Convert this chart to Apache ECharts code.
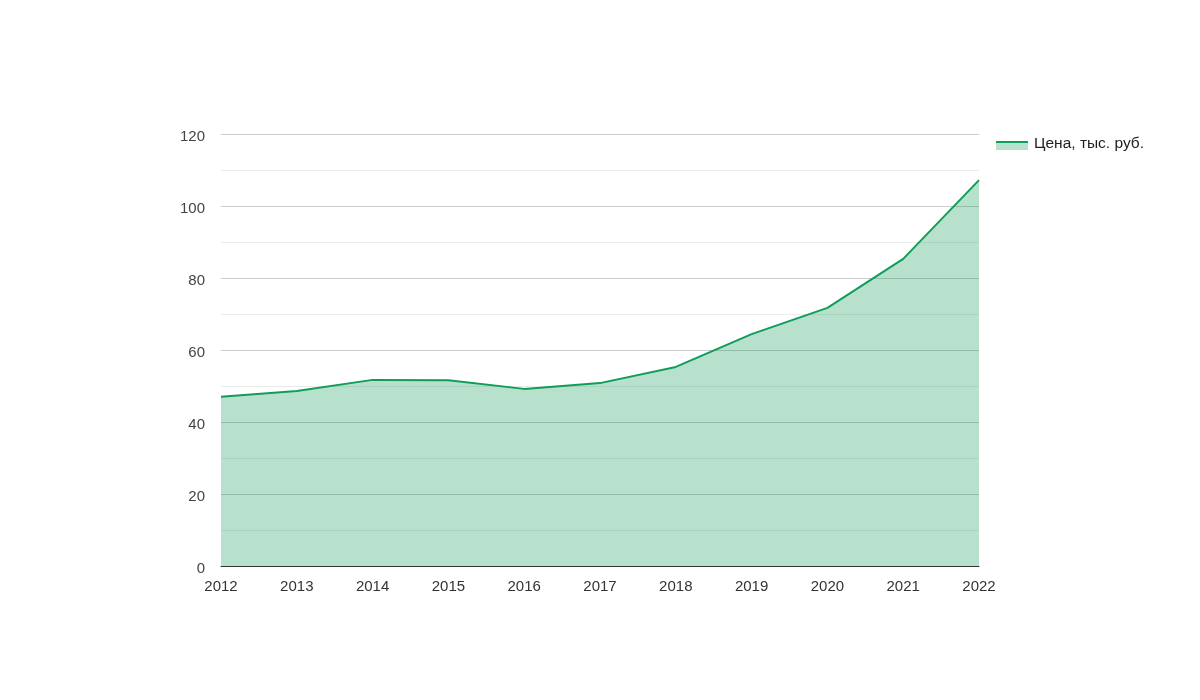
<!DOCTYPE html>
<html><head><meta charset="utf-8">
<script src="https://cdn.jsdelivr.net/npm/echarts@6/dist/echarts.min.js"></script>
<style>html,body{margin:0;padding:0;background:#fff}#c{width:1200px;height:700px}</style>
</head><body><div id="c"></div>
<script>
const years = ['2012','2013','2014','2015','2016','2017','2018','2019','2020','2021','2022'];
const prices = [47.0, 48.6, 51.7, 51.6, 49.2, 50.8, 55.3, 64.4, 71.7, 85.3, 107.2];
const seriesName = 'Цена, тыс. руб.';
const lineColor = '#0f9d58';
const font = 'Liberation Sans, Arial, sans-serif';
const chart = echarts.init(document.getElementById('c'));
chart.setOption({
  animation: false,
  grid: {left: 221, right: 221, top: 134, bottom: 134},
  xAxis: {
    type: 'category', data: years, boundaryGap: false,
    axisLine: {show: true, lineStyle: {color: '#333', width: 1}},
    axisTick: {show: false},
    axisLabel: {color: '#333', fontSize: 15, fontFamily: font, margin: 13}
  },
  yAxis: {
    type: 'value', min: 0, max: 120, interval: 20,
    axisLine: {show: false}, axisTick: {show: false},
    axisLabel: {
      margin: 16, formatter: '{a|{value}}',
      rich: {a: {color: '#444', fontSize: 15, fontFamily: font, padding: [5, 0, 0, 0]}}
    },
    splitLine: {lineStyle: {color: '#cccccc', width: 1}},
    minorTick: {show: false, splitNumber: 2},
    minorSplitLine: {show: true, lineStyle: {color: '#ebebeb', width: 1}}
  },
  series: [{
    name: seriesName, type: 'line', data: prices,
    symbol: 'none',
    lineStyle: {color: lineColor, width: 2},
    itemStyle: {color: lineColor},
    areaStyle: {color: lineColor, opacity: 0.3}
  }],
  graphic: [
    {type: 'rect', left: 996, top: 141, shape: {width: 32, height: 9}, style: {fill: 'rgba(15,157,88,0.3)'}},
    {type: 'rect', left: 996, top: 141, shape: {width: 32, height: 2}, style: {fill: lineColor}},
    {type: 'text', left: 1034, top: 136, style: {text: seriesName, fill: '#222', font: '15.5px ' + font}}
  ]
});
</script></body></html>
